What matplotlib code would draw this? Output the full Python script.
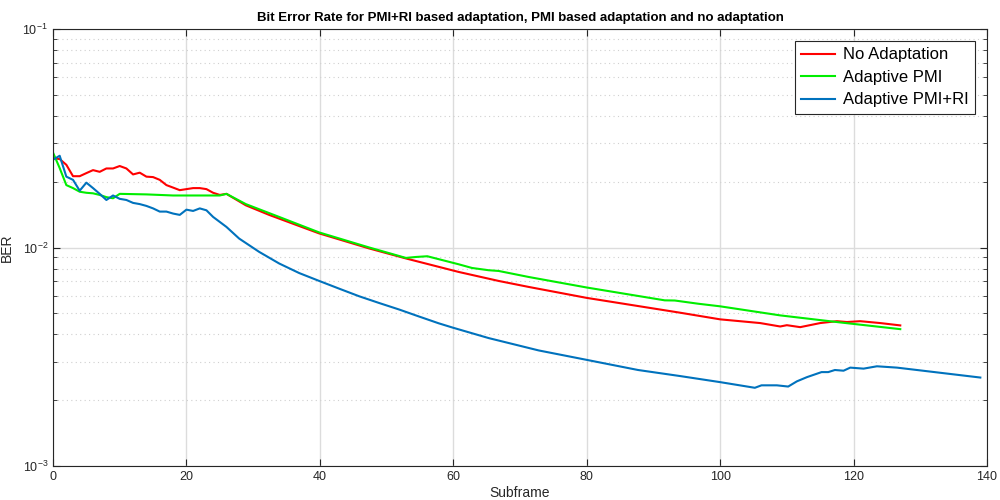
import numpy as np
import matplotlib
matplotlib.use('Agg')
import matplotlib.pyplot as plt
from matplotlib.ticker import LogLocator, NullFormatter, MultipleLocator

plt.rcParams['font.family'] = ['Liberation Sans', 'DejaVu Sans']
plt.rcParams['mathtext.fontset'] = 'custom'
plt.rcParams['mathtext.rm'] = 'Liberation Sans'
plt.rcParams['mathtext.it'] = 'Liberation Sans'

# No Adaptation (red)
x_no = [0, 1, 2, 3, 4, 5, 6, 7, 8, 9, 10, 11, 12, 13, 14, 15, 16, 17, 18, 19, 20,
        21, 22, 23, 24, 25, 26, 28.9, 32.4, 36.9, 39.9, 47.4, 52.9, 60.8, 66.8, 71.3, 80,
        94, 100, 106, 109, 110, 112, 115, 117.5, 119, 121, 124, 127]
ber_no = [0.0256, 0.0254, 0.0239, 0.0212, 0.0212, 0.0219, 0.0226, 0.0222, 0.0230, 0.0230,
          0.0236, 0.0230, 0.0216, 0.0220, 0.0211, 0.0210, 0.0204, 0.0193, 0.0188, 0.0183,
          0.0185, 0.0187, 0.0187, 0.0185, 0.0178, 0.0174, 0.0176, 0.0156, 0.0141, 0.01254,
          0.0116, 0.00990, 0.00891, 0.00773, 0.00703, 0.00660, 0.00588,
          0.00503, 0.00469, 0.00451, 0.00435, 0.00441, 0.00432, 0.00451, 0.00460, 0.00456,
          0.00460, 0.00451, 0.00440]

# Adaptive PMI (green)
x_pmi = [0, 1, 2, 3, 4, 5, 6, 7, 8, 9, 10, 14, 18, 22, 25, 26, 28.9, 33.9, 39.9, 47.4,
         52.9, 54.4, 56.1, 60.8, 62.8, 65.3, 66.8, 71.3, 80, 91.7, 93.2, 96.7, 100, 109,
         118, 127]
ber_pmi = [0.0272, 0.0231, 0.0193, 0.0187, 0.0180, 0.0178, 0.0177, 0.0174, 0.0170, 0.0168,
           0.0176, 0.0175, 0.0173, 0.0173, 0.0173, 0.0176, 0.0158, 0.0138, 0.01172, 0.0100,
           0.00896, 0.00905, 0.00912, 0.00838, 0.00806, 0.00787, 0.00781, 0.00733, 0.00656,
           0.00573, 0.00572, 0.00553, 0.00538, 0.00489, 0.00454, 0.00423]

# Adaptive PMI+RI (blue)
x_ri = [0, 1, 2, 3, 4, 5, 6, 7, 8, 9, 10, 11, 12, 13, 14, 15, 16, 17, 18, 19, 20, 21, 22,
        23, 24, 26, 27.9, 30.9, 33.9, 36.9, 39.9, 42.9, 45.9, 48.9, 51.9, 54.8, 57.8, 59.9,
        65.3, 72.8, 80, 87.7, 94, 100, 105.2, 106.2, 108.5,
        110.2, 111.5, 113, 115.2, 116.2, 117.2, 118.5, 119.5, 121.5, 123.5, 126.5, 139]
ber_ri = [0.0252, 0.0263, 0.0211, 0.0204, 0.0182, 0.0198, 0.0187, 0.0176, 0.0165, 0.0173,
          0.0167, 0.0165, 0.0160, 0.0158, 0.0155, 0.0151, 0.0146, 0.0146, 0.0143, 0.0141,
          0.0149, 0.0147, 0.0151, 0.0148, 0.0138, 0.01242, 0.01099, 0.00955, 0.00845, 0.00764,
          0.00703, 0.00648, 0.00598, 0.00557, 0.00520, 0.00484, 0.00450, 0.00430,
          0.00385, 0.00338, 0.00306, 0.00275, 0.00258, 0.00242, 0.00228, 0.00234, 0.00234,
          0.00231, 0.00244, 0.00255, 0.00269, 0.00269, 0.00275, 0.00273, 0.00282, 0.00279,
          0.00286, 0.00282, 0.00254]

fig = plt.figure(figsize=(10, 5), dpi=100)
ax = fig.add_axes([0.053, 0.068, 0.934, 0.874])

ax.plot(x_no, ber_no, color='#ff0000', linewidth=1.5, label='No Adaptation')
ax.plot(x_pmi, ber_pmi, color='#00ee00', linewidth=1.5, label='Adaptive PMI')
ax.plot(x_ri, ber_ri, color='#0072bd', linewidth=1.5, label='Adaptive PMI+RI')

ax.set_yscale('log')
ax.set_xlim(0, 140)
ax.set_ylim(1e-3, 1e-1)
ax.xaxis.set_major_locator(MultipleLocator(20))
ax.yaxis.set_major_locator(LogLocator(base=10, numticks=10))
ax.yaxis.set_minor_locator(LogLocator(base=10, subs=np.arange(2, 10), numticks=20))
ax.yaxis.set_minor_formatter(NullFormatter())

ax.grid(True, which='major', color='#dcdcdc', linewidth=1.0, linestyle='-')
ax.grid(True, which='minor', axis='y', color='#d0d0d0', linewidth=0.8, linestyle=(0, (1, 3)))
ax.set_axisbelow(True)

for s in ax.spines.values():
    s.set_color('#262626')
    s.set_linewidth(0.8)
ax.tick_params(which='both', direction='in', top=True, right=True, colors='#262626',
               labelsize=9, labelcolor='#262626')
ax.tick_params(which='major', length=5)
ax.tick_params(which='minor', length=3)

ax.set_title('Bit Error Rate for PMI+RI based adaptation, PMI based adaptation and no adaptation',
             fontsize=9.5, fontweight='bold', color='black', pad=6)
ax.set_xlabel('Subframe', fontsize=10, color='#262626', labelpad=2)
ax.set_ylabel('BER', fontsize=10, color='#262626', labelpad=6)

leg = ax.legend(loc='upper right', frameon=True, fancybox=False,
                edgecolor='#262626', framealpha=1, handlelength=2.0, borderpad=0.4,
                labelspacing=0.45, handletextpad=0.5, borderaxespad=0.7,
                prop={'family': 'Liberation Sans', 'size': 12})
leg.get_frame().set_linewidth(0.8)

fig.savefig('out.png', dpi=100)
